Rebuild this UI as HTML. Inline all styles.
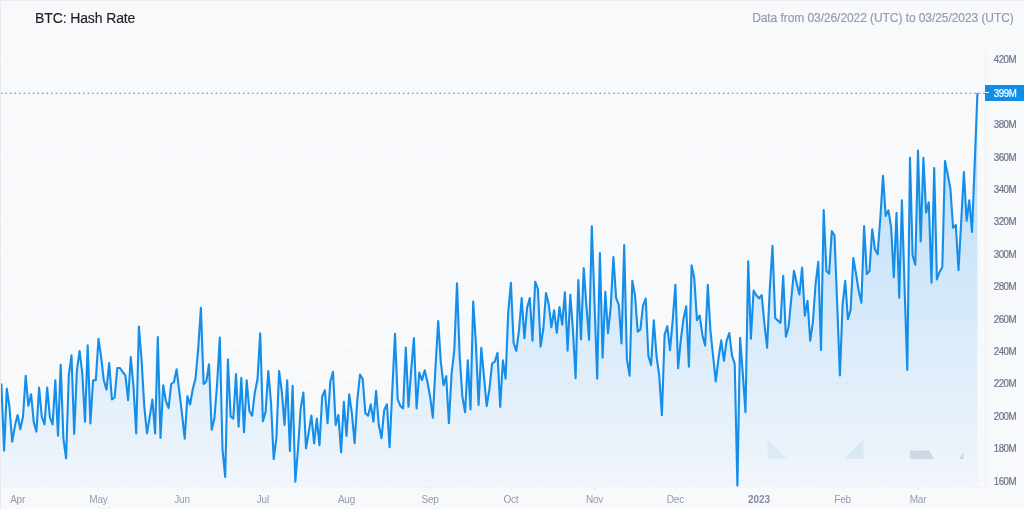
<!DOCTYPE html>
<html><head><meta charset="utf-8"><title>BTC: Hash Rate</title>
<style>
html,body{margin:0;padding:0}
body{width:1024px;height:509px;overflow:hidden;background:#f8f9fb;font-family:"Liberation Sans",sans-serif;position:relative}
#wrap{position:absolute;left:0;top:0;width:1024px;height:509px;overflow:hidden;background:#f8f9fb}
#txt{position:absolute;left:0;top:0;width:1024px;height:509px;will-change:transform;transform:translateZ(0);background:transparent}
#topb{position:absolute;left:0;top:0;width:1024px;height:1px;background:#eaecf0}
#leftb{position:absolute;left:0;top:0;width:1.4px;height:509px;background:#e9ebef}
#title{position:absolute;left:35px;top:9.2px;font-size:14px;line-height:18px;color:#1e1e23;white-space:nowrap;letter-spacing:-0.12px;-webkit-text-stroke:0.15px #1e1e23}
#range{position:absolute;right:10.3px;top:8.8px;font-size:12px;line-height:18px;color:#959bb3;white-space:nowrap;letter-spacing:-0.07px;-webkit-text-stroke:0.2px #959bb3}
svg{position:absolute;left:0;top:0}
.yl{position:absolute;left:993.7px;width:30px;font-size:9.7px;line-height:12px;color:#6d738e;white-space:nowrap;letter-spacing:-0.42px;-webkit-text-stroke:0.2px #6d738e;transform:scaleY(1.07);transform-origin:50% 50%}
.xl{position:absolute;top:493.5px;width:60px;text-align:center;font-size:10px;line-height:12px;color:#959ab2;white-space:nowrap;letter-spacing:-0.2px}
.xl.b{font-weight:bold;color:#858ba6;letter-spacing:0}
#last{position:absolute;left:985.2px;top:85px;width:39px;height:15.7px;background:#0f8de8;color:#fff;font-size:9.7px;line-height:16px;letter-spacing:-0.42px;-webkit-text-stroke:0.2px #fff}
#last span{position:absolute;left:8.6px;top:1.3px;transform:scaleY(1.07);transform-origin:50% 50%}
#last i{position:absolute;left:0;top:7.3px;width:3.7px;height:1px;background:#fff}
</style></head><body><div id="wrap">
<svg width="1024" height="509" viewBox="0 0 1024 509">
<defs><linearGradient id="g" gradientUnits="userSpaceOnUse" x1="0" y1="40" x2="0" y2="487">
<stop offset="0" stop-color="#2196f3" stop-opacity="0.34"/><stop offset="1" stop-color="#2196f3" stop-opacity="0.035"/></linearGradient></defs>
<g stroke="#e8ecf4" stroke-width="1" stroke-dasharray="1.2 2.42" fill="none"><line x1="0" x2="989" y1="480.4" y2="480.4"/><line x1="0" x2="989" y1="448.0" y2="448.0"/><line x1="0" x2="989" y1="415.6" y2="415.6"/><line x1="0" x2="989" y1="383.2" y2="383.2"/><line x1="0" x2="989" y1="350.8" y2="350.8"/><line x1="0" x2="989" y1="318.5" y2="318.5"/><line x1="0" x2="989" y1="286.1" y2="286.1"/><line x1="0" x2="989" y1="253.7" y2="253.7"/><line x1="0" x2="989" y1="221.3" y2="221.3"/><line x1="0" x2="989" y1="188.9" y2="188.9"/><line x1="0" x2="989" y1="156.5" y2="156.5"/><line x1="0" x2="989" y1="124.1" y2="124.1"/><line x1="0" x2="989" y1="91.7" y2="91.7"/><line x1="0" x2="989" y1="59.3" y2="59.3"/></g>
<path d="M1.4,384.2 L4.1,450.6 L6.8,388.6 L9.5,407.5 L12.2,441.7 L14.9,426.1 L17.6,415.1 L20.3,429.1 L23.0,416.8 L25.7,375.9 L28.4,405.8 L31.1,394.2 L33.8,422.4 L36.4,431.7 L39.1,387.6 L41.8,416.8 L44.5,424.4 L47.2,387.6 L49.9,417.4 L52.6,424.4 L55.3,380.3 L58.0,435.7 L60.7,364.7 L63.4,438.4 L66.1,458.3 L68.8,375.3 L71.5,355.4 L74.2,434.0 L76.9,370.3 L79.6,351.0 L82.3,373.6 L85.0,421.8 L87.7,345.4 L90.4,423.4 L93.1,380.3 L95.8,380.3 L98.5,338.8 L101.2,357.7 L103.8,380.3 L106.5,389.6 L109.2,363.0 L111.9,399.5 L114.6,397.5 L117.3,368.0 L120.0,368.0 L122.7,372.0 L125.4,375.3 L128.1,400.2 L130.8,357.0 L133.5,386.9 L136.2,433.4 L138.9,326.5 L141.6,360.3 L144.3,406.8 L147.0,433.4 L149.7,416.8 L152.4,399.5 L155.1,433.4 L157.8,337.1 L160.5,437.9 L163.2,385.2 L165.9,400.8 L168.6,408.2 L171.2,384.0 L173.9,382.2 L176.6,369.2 L179.3,391.5 L182.0,413.8 L184.7,438.6 L187.4,396.3 L190.1,404.5 L192.8,388.9 L195.5,378.5 L198.2,348.8 L200.9,307.9 L203.6,384.0 L206.3,381.5 L209.0,364.4 L211.7,429.7 L214.4,418.6 L217.1,384.0 L219.8,337.6 L222.5,449.0 L225.2,476.9 L227.9,359.2 L230.6,416.4 L233.3,418.6 L236.0,374.0 L238.6,426.8 L241.3,377.7 L244.0,432.3 L246.7,380.3 L249.4,411.2 L252.1,415.6 L254.8,392.6 L257.5,379.2 L260.2,333.2 L262.9,421.2 L265.6,411.9 L268.3,371.1 L271.0,402.6 L273.7,459.1 L276.4,437.9 L279.1,371.1 L281.8,391.5 L284.5,424.9 L287.2,380.3 L289.9,450.9 L292.6,385.9 L295.3,481.7 L298.0,449.0 L300.7,408.2 L303.4,392.6 L306.0,448.3 L308.7,432.3 L311.4,415.6 L314.1,443.5 L316.8,418.6 L319.5,445.3 L322.2,396.7 L324.9,390.1 L327.6,423.3 L330.3,381.8 L333.0,371.8 L335.7,425.0 L338.4,415.0 L341.1,452.2 L343.8,401.7 L346.5,435.9 L349.2,394.4 L351.9,413.3 L354.6,443.2 L357.3,400.1 L360.0,374.5 L362.7,379.1 L365.4,413.3 L368.1,415.7 L370.8,404.4 L373.4,421.6 L376.1,390.8 L378.8,425.0 L381.5,438.2 L384.2,410.0 L386.9,404.4 L389.6,447.2 L392.3,390.1 L395.0,333.7 L397.7,399.4 L400.4,406.0 L403.1,408.4 L405.8,347.6 L408.5,406.7 L411.2,370.2 L413.9,338.0 L416.6,408.4 L419.3,372.5 L422.0,380.1 L424.7,370.2 L427.4,381.8 L430.1,396.7 L432.8,417.7 L435.5,366.9 L438.2,321.0 L440.8,361.9 L443.5,385.1 L446.2,376.2 L448.9,423.3 L451.6,373.5 L454.3,350.3 L457.0,283.2 L459.7,356.9 L462.4,396.7 L465.1,412.3 L467.8,360.2 L470.5,409.4 L473.2,301.5 L475.9,343.6 L478.6,405.0 L481.3,347.9 L484.0,376.8 L486.7,406.2 L489.4,389.4 L492.1,363.5 L494.8,361.7 L497.5,352.9 L500.2,407.0 L502.9,360.4 L505.6,378.8 L508.2,312.7 L510.9,282.8 L513.6,342.8 L516.3,350.9 L519.0,330.3 L521.7,298.1 L524.4,338.3 L527.1,307.6 L529.8,298.1 L532.5,340.8 L535.2,281.7 L537.9,289.0 L540.6,346.6 L543.3,329.0 L546.0,293.1 L548.7,303.9 L551.4,327.3 L554.1,310.2 L556.8,332.8 L559.5,307.1 L562.2,324.7 L564.9,292.3 L567.6,350.8 L570.3,294.8 L573.0,331.0 L575.6,378.1 L578.3,280.0 L581.0,339.4 L583.7,268.1 L586.4,305.8 L589.1,339.8 L591.8,226.3 L594.5,302.7 L597.2,378.7 L599.9,253.0 L602.6,357.7 L605.3,291.7 L608.0,333.2 L610.7,307.4 L613.4,257.1 L616.1,297.9 L618.8,304.9 L621.5,343.5 L624.2,245.1 L626.9,359.2 L629.6,375.6 L632.3,280.7 L635.0,295.4 L637.7,331.6 L640.4,329.4 L643.0,305.7 L645.7,298.6 L648.4,356.0 L651.1,365.1 L653.8,320.3 L656.5,356.0 L659.2,375.4 L661.9,415.3 L664.6,334.9 L667.3,326.2 L670.0,350.2 L672.7,320.3 L675.4,284.7 L678.1,368.3 L680.8,339.8 L683.5,318.7 L686.2,306.4 L688.9,366.7 L691.6,265.2 L694.3,278.8 L697.0,320.3 L699.7,315.5 L702.4,334.9 L705.1,345.6 L707.8,284.7 L710.4,330.1 L713.1,356.0 L715.8,381.3 L718.5,358.6 L721.2,340.4 L723.9,360.8 L726.6,340.8 L729.3,333.0 L732.0,355.6 L734.7,363.8 L737.4,485.7 L740.1,337.7 L742.8,373.8 L745.5,412.2 L748.2,261.3 L750.9,338.6 L753.6,290.5 L756.3,295.2 L759.0,298.4 L761.7,295.2 L764.4,323.5 L767.1,347.7 L769.8,288.9 L772.5,245.9 L775.2,317.9 L777.8,320.4 L780.5,322.9 L783.2,275.7 L785.9,336.7 L788.6,326.7 L791.3,298.4 L794.0,270.7 L796.7,283.3 L799.4,294.6 L802.1,267.6 L804.8,315.7 L807.5,300.9 L810.2,340.8 L812.9,322.0 L815.6,283.8 L818.3,261.7 L821.0,350.0 L823.7,210.0 L826.4,271.1 L829.1,273.7 L831.8,231.1 L834.5,235.5 L837.2,304.6 L839.9,375.4 L842.6,304.6 L845.2,280.9 L847.9,319.1 L850.6,310.0 L853.3,258.0 L856.0,273.7 L858.7,290.7 L861.4,302.7 L864.1,226.0 L866.8,274.1 L869.5,271.0 L872.2,229.2 L874.9,249.0 L877.6,254.3 L880.3,218.5 L883.0,175.7 L885.7,215.9 L888.4,210.3 L891.1,227.0 L893.8,277.2 L896.5,212.8 L899.2,297.7 L901.9,200.2 L904.6,288.3 L907.3,370.0 L910.0,157.8 L912.6,255.2 L915.3,264.7 L918.0,150.6 L920.7,241.4 L923.4,157.7 L926.1,212.6 L928.8,202.2 L931.5,282.7 L934.2,168.0 L936.9,279.4 L939.6,272.0 L942.3,267.0 L945.0,161.0 L947.7,174.2 L950.4,188.6 L953.1,227.8 L955.8,224.9 L958.5,270.3 L961.2,221.6 L963.9,172.1 L966.6,220.8 L969.3,200.2 L972.0,232.0 L974.7,163.9 L977.4,93.8 L977.4,486.8 L1.4,486.8 Z" fill="url(#g)" stroke="none"/>
<path d="M1.4,384.2 L4.1,450.6 L6.8,388.6 L9.5,407.5 L12.2,441.7 L14.9,426.1 L17.6,415.1 L20.3,429.1 L23.0,416.8 L25.7,375.9 L28.4,405.8 L31.1,394.2 L33.8,422.4 L36.4,431.7 L39.1,387.6 L41.8,416.8 L44.5,424.4 L47.2,387.6 L49.9,417.4 L52.6,424.4 L55.3,380.3 L58.0,435.7 L60.7,364.7 L63.4,438.4 L66.1,458.3 L68.8,375.3 L71.5,355.4 L74.2,434.0 L76.9,370.3 L79.6,351.0 L82.3,373.6 L85.0,421.8 L87.7,345.4 L90.4,423.4 L93.1,380.3 L95.8,380.3 L98.5,338.8 L101.2,357.7 L103.8,380.3 L106.5,389.6 L109.2,363.0 L111.9,399.5 L114.6,397.5 L117.3,368.0 L120.0,368.0 L122.7,372.0 L125.4,375.3 L128.1,400.2 L130.8,357.0 L133.5,386.9 L136.2,433.4 L138.9,326.5 L141.6,360.3 L144.3,406.8 L147.0,433.4 L149.7,416.8 L152.4,399.5 L155.1,433.4 L157.8,337.1 L160.5,437.9 L163.2,385.2 L165.9,400.8 L168.6,408.2 L171.2,384.0 L173.9,382.2 L176.6,369.2 L179.3,391.5 L182.0,413.8 L184.7,438.6 L187.4,396.3 L190.1,404.5 L192.8,388.9 L195.5,378.5 L198.2,348.8 L200.9,307.9 L203.6,384.0 L206.3,381.5 L209.0,364.4 L211.7,429.7 L214.4,418.6 L217.1,384.0 L219.8,337.6 L222.5,449.0 L225.2,476.9 L227.9,359.2 L230.6,416.4 L233.3,418.6 L236.0,374.0 L238.6,426.8 L241.3,377.7 L244.0,432.3 L246.7,380.3 L249.4,411.2 L252.1,415.6 L254.8,392.6 L257.5,379.2 L260.2,333.2 L262.9,421.2 L265.6,411.9 L268.3,371.1 L271.0,402.6 L273.7,459.1 L276.4,437.9 L279.1,371.1 L281.8,391.5 L284.5,424.9 L287.2,380.3 L289.9,450.9 L292.6,385.9 L295.3,481.7 L298.0,449.0 L300.7,408.2 L303.4,392.6 L306.0,448.3 L308.7,432.3 L311.4,415.6 L314.1,443.5 L316.8,418.6 L319.5,445.3 L322.2,396.7 L324.9,390.1 L327.6,423.3 L330.3,381.8 L333.0,371.8 L335.7,425.0 L338.4,415.0 L341.1,452.2 L343.8,401.7 L346.5,435.9 L349.2,394.4 L351.9,413.3 L354.6,443.2 L357.3,400.1 L360.0,374.5 L362.7,379.1 L365.4,413.3 L368.1,415.7 L370.8,404.4 L373.4,421.6 L376.1,390.8 L378.8,425.0 L381.5,438.2 L384.2,410.0 L386.9,404.4 L389.6,447.2 L392.3,390.1 L395.0,333.7 L397.7,399.4 L400.4,406.0 L403.1,408.4 L405.8,347.6 L408.5,406.7 L411.2,370.2 L413.9,338.0 L416.6,408.4 L419.3,372.5 L422.0,380.1 L424.7,370.2 L427.4,381.8 L430.1,396.7 L432.8,417.7 L435.5,366.9 L438.2,321.0 L440.8,361.9 L443.5,385.1 L446.2,376.2 L448.9,423.3 L451.6,373.5 L454.3,350.3 L457.0,283.2 L459.7,356.9 L462.4,396.7 L465.1,412.3 L467.8,360.2 L470.5,409.4 L473.2,301.5 L475.9,343.6 L478.6,405.0 L481.3,347.9 L484.0,376.8 L486.7,406.2 L489.4,389.4 L492.1,363.5 L494.8,361.7 L497.5,352.9 L500.2,407.0 L502.9,360.4 L505.6,378.8 L508.2,312.7 L510.9,282.8 L513.6,342.8 L516.3,350.9 L519.0,330.3 L521.7,298.1 L524.4,338.3 L527.1,307.6 L529.8,298.1 L532.5,340.8 L535.2,281.7 L537.9,289.0 L540.6,346.6 L543.3,329.0 L546.0,293.1 L548.7,303.9 L551.4,327.3 L554.1,310.2 L556.8,332.8 L559.5,307.1 L562.2,324.7 L564.9,292.3 L567.6,350.8 L570.3,294.8 L573.0,331.0 L575.6,378.1 L578.3,280.0 L581.0,339.4 L583.7,268.1 L586.4,305.8 L589.1,339.8 L591.8,226.3 L594.5,302.7 L597.2,378.7 L599.9,253.0 L602.6,357.7 L605.3,291.7 L608.0,333.2 L610.7,307.4 L613.4,257.1 L616.1,297.9 L618.8,304.9 L621.5,343.5 L624.2,245.1 L626.9,359.2 L629.6,375.6 L632.3,280.7 L635.0,295.4 L637.7,331.6 L640.4,329.4 L643.0,305.7 L645.7,298.6 L648.4,356.0 L651.1,365.1 L653.8,320.3 L656.5,356.0 L659.2,375.4 L661.9,415.3 L664.6,334.9 L667.3,326.2 L670.0,350.2 L672.7,320.3 L675.4,284.7 L678.1,368.3 L680.8,339.8 L683.5,318.7 L686.2,306.4 L688.9,366.7 L691.6,265.2 L694.3,278.8 L697.0,320.3 L699.7,315.5 L702.4,334.9 L705.1,345.6 L707.8,284.7 L710.4,330.1 L713.1,356.0 L715.8,381.3 L718.5,358.6 L721.2,340.4 L723.9,360.8 L726.6,340.8 L729.3,333.0 L732.0,355.6 L734.7,363.8 L737.4,485.7 L740.1,337.7 L742.8,373.8 L745.5,412.2 L748.2,261.3 L750.9,338.6 L753.6,290.5 L756.3,295.2 L759.0,298.4 L761.7,295.2 L764.4,323.5 L767.1,347.7 L769.8,288.9 L772.5,245.9 L775.2,317.9 L777.8,320.4 L780.5,322.9 L783.2,275.7 L785.9,336.7 L788.6,326.7 L791.3,298.4 L794.0,270.7 L796.7,283.3 L799.4,294.6 L802.1,267.6 L804.8,315.7 L807.5,300.9 L810.2,340.8 L812.9,322.0 L815.6,283.8 L818.3,261.7 L821.0,350.0 L823.7,210.0 L826.4,271.1 L829.1,273.7 L831.8,231.1 L834.5,235.5 L837.2,304.6 L839.9,375.4 L842.6,304.6 L845.2,280.9 L847.9,319.1 L850.6,310.0 L853.3,258.0 L856.0,273.7 L858.7,290.7 L861.4,302.7 L864.1,226.0 L866.8,274.1 L869.5,271.0 L872.2,229.2 L874.9,249.0 L877.6,254.3 L880.3,218.5 L883.0,175.7 L885.7,215.9 L888.4,210.3 L891.1,227.0 L893.8,277.2 L896.5,212.8 L899.2,297.7 L901.9,200.2 L904.6,288.3 L907.3,370.0 L910.0,157.8 L912.6,255.2 L915.3,264.7 L918.0,150.6 L920.7,241.4 L923.4,157.7 L926.1,212.6 L928.8,202.2 L931.5,282.7 L934.2,168.0 L936.9,279.4 L939.6,272.0 L942.3,267.0 L945.0,161.0 L947.7,174.2 L950.4,188.6 L953.1,227.8 L955.8,224.9 L958.5,270.3 L961.2,221.6 L963.9,172.1 L966.6,220.8 L969.3,200.2 L972.0,232.0 L974.7,163.9 L977.4,93.8" fill="none" stroke="#158eea" stroke-width="2.1" stroke-linejoin="round" stroke-linecap="round"/>
<line x1="0.8" x2="985" y1="93.4" y2="93.4" stroke="#43a3ee" stroke-width="1.3" stroke-dasharray="1.5 3.07"/>
<line x1="985.6" x2="985.6" y1="49" y2="487" stroke="#f0f2f6" stroke-width="1"/>
<line x1="0" x2="986" y1="487.2" y2="487.2" stroke="#f0f2f6" stroke-width="1"/>
<g stroke="#e3e6ee" stroke-width="0.8"><line x1="17.6" x2="17.6" y1="487.5" y2="490"/><line x1="98.5" x2="98.5" y1="487.5" y2="490"/><line x1="182.0" x2="182.0" y1="487.5" y2="490"/><line x1="262.9" x2="262.9" y1="487.5" y2="490"/><line x1="346.5" x2="346.5" y1="487.5" y2="490"/><line x1="430.1" x2="430.1" y1="487.5" y2="490"/><line x1="510.9" x2="510.9" y1="487.5" y2="490"/><line x1="594.5" x2="594.5" y1="487.5" y2="490"/><line x1="675.4" x2="675.4" y1="487.5" y2="490"/><line x1="759.0" x2="759.0" y1="487.5" y2="490"/><line x1="842.6" x2="842.6" y1="487.5" y2="490"/><line x1="918.0" x2="918.0" y1="487.5" y2="490"/></g>
<polygon points="767.5,438.9 767.5,459.1 787.1,459.1" fill="#2a8ae0" fill-opacity="0.07"/>
<polygon points="863.4,438.9 863.4,459.1 844.3,459.1" fill="#2a8ae0" fill-opacity="0.10"/>
<polygon points="909.9,450.4 929.2,450.4 934.2,459.1 909.9,459.1" fill="#8e98ab" fill-opacity="0.30"/>
<polygon points="963.4,452 963.4,459.1 958.9,459.1" fill="#8e98ab" fill-opacity="0.34"/>
</svg>
<div id="txt">
<div class="yl" style="top:475.5px">160M</div><div class="yl" style="top:443.1px">180M</div><div class="yl" style="top:410.7px">200M</div><div class="yl" style="top:378.3px">220M</div><div class="yl" style="top:345.9px">240M</div><div class="yl" style="top:313.6px">260M</div><div class="yl" style="top:281.2px">280M</div><div class="yl" style="top:248.8px">300M</div><div class="yl" style="top:216.4px">320M</div><div class="yl" style="top:184.0px">340M</div><div class="yl" style="top:151.6px">360M</div><div class="yl" style="top:119.2px">380M</div><div class="yl" style="top:86.8px">400M</div><div class="yl" style="top:54.4px">420M</div>
<div class="xl" style="left:-12.4px">Apr</div><div class="xl" style="left:68.5px">May</div><div class="xl" style="left:152.0px">Jun</div><div class="xl" style="left:232.9px">Jul</div><div class="xl" style="left:316.5px">Aug</div><div class="xl" style="left:400.1px">Sep</div><div class="xl" style="left:480.9px">Oct</div><div class="xl" style="left:564.5px">Nov</div><div class="xl" style="left:645.4px">Dec</div><div class="xl b" style="left:729.0px">2023</div><div class="xl" style="left:812.6px">Feb</div><div class="xl" style="left:888.0px">Mar</div>
<div id="last"><i></i><span>399M</span></div>
<div id="title">BTC: Hash Rate</div>
<div id="range">Data from 03/26/2022 (UTC) to 03/25/2023 (UTC)</div>
</div>
<div id="topb"></div><div id="leftb"></div>
</div></body></html>
